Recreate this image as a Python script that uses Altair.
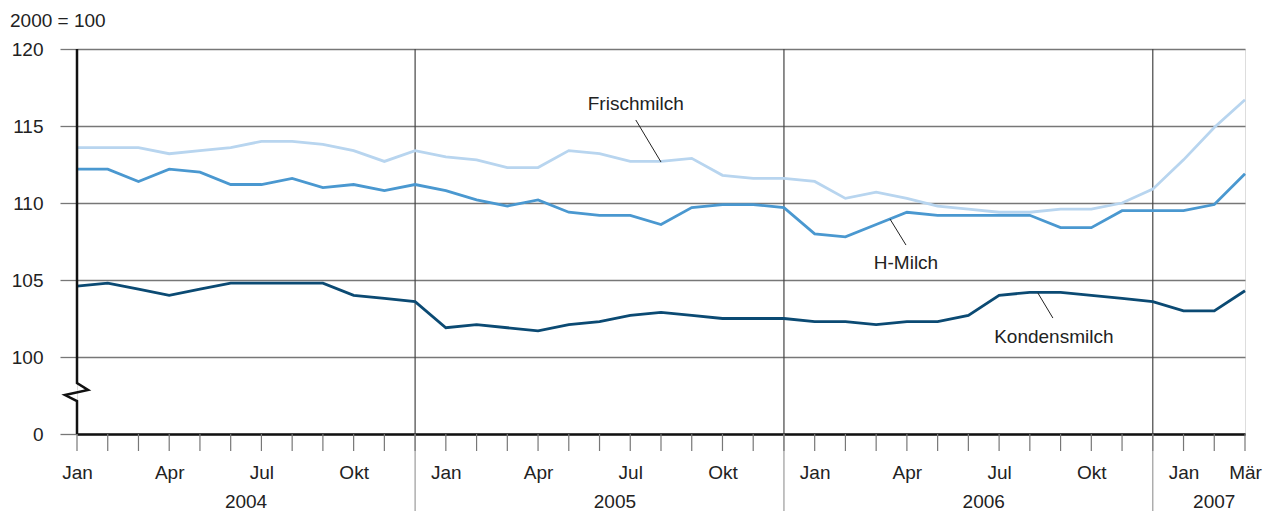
import altair as alt
import pandas as pd

months = ["Jan", "Feb", "Mär", "Apr", "Mai", "Jun", "Jul", "Aug", "Sep", "Okt", "Nov", "Dez"]
years = [2004, 2005, 2006, 2007]

frischmilch = [113.6, 113.6, 113.6, 113.2, 113.4, 113.6, 114.0, 114.0, 113.8, 113.4, 112.7, 113.4,
               113.0, 112.8, 112.3, 112.3, 113.4, 113.2, 112.7, 112.7, 112.9, 111.8, 111.6, 111.6,
               111.4, 110.3, 110.7, 110.3, 109.8, 109.6, 109.4, 109.4, 109.6, 109.6, 110.0, 110.9,
               112.8, 114.9, 116.7]
hmilch = [112.2, 112.2, 111.4, 112.2, 112.0, 111.2, 111.2, 111.6, 111.0, 111.2, 110.8, 111.2,
          110.8, 110.2, 109.8, 110.2, 109.4, 109.2, 109.2, 108.6, 109.7, 109.9, 109.9, 109.7,
          108.0, 107.8, 108.6, 109.4, 109.2, 109.2, 109.2, 109.2, 108.4, 108.4, 109.5, 109.5,
          109.5, 109.9, 111.9]
kondensmilch = [104.6, 104.8, 104.4, 104.0, 104.4, 104.8, 104.8, 104.8, 104.8, 104.0, 103.8, 103.6,
                101.9, 102.1, 101.9, 101.7, 102.1, 102.3, 102.7, 102.9, 102.7, 102.5, 102.5, 102.5,
                102.3, 102.3, 102.1, 102.3, 102.3, 102.7, 104.0, 104.2, 104.2, 104.0, 103.8, 103.6,
                103.0, 103.0, 104.3]

series_names = ["Frischmilch", "H-Milch", "Kondensmilch"]
series_colors = ["#b8d5ef", "#4a98d0", "#0b4a73"]

y_ticks = [95, 100, 105, 110, 115, 120]          # 95 stands for the broken-axis "0"
x_label_idx = [0, 3, 6, 9, 12, 15, 18, 21, 24, 27, 30, 33, 36, 38]
year_sep_idx = [11, 23, 35]
year_label_x = [5.5, 17.5, 29.5, 37.0]

# label positions (month index, value)
label_x = [18.18, 26.97, 31.78]
label_y = [116.45, 106.1, 101.3]
leader_x1 = [18.18, 26.45, 31.26]
leader_y1 = [115.39, 108.96, 104.16]
leader_x2 = [19.0, 26.97, 31.75]
leader_y2 = [112.66, 107.27, 102.53]

# axis break zigzag on the y axis (month index offset, value)
axis_x = [0, 0, -0.39, 0.36, 0, 0]
axis_y = [95, 97.14, 97.53, 97.86, 98.31, 120]

n = len(frischmilch)
rows = []
for name, vals in zip(series_names, [frischmilch, hmilch, kondensmilch]):
    for i, v in enumerate(vals):
        rows.append({"idx": i, "value": v, "series": name})
df = pd.DataFrame(rows)

month_labels = [months[i % 12] for i in range(n)]
label_expr = "[" + ",".join("'" + m + "'" for m in month_labels) + "][datum.value]"

W, H = 1168, 385
FONT = "Liberation Sans"

xscale = alt.Scale(domain=[0, n - 1], nice=False, zero=False)
yscale = alt.Scale(domain=[95, 120], nice=False, zero=False)

base_x = alt.X("idx:Q", scale=xscale,
               axis=alt.Axis(values=x_label_idx, grid=False, title=None,
                             labelExpr=label_expr,
                             ticks=False,
                             domainColor="#111111", domainWidth=2.5,
                             labelFont=FONT, labelFontSize=19, labelColor="#222222",
                             labelPadding=29, labelFlush=False, labelOverlap=False))
base_y = alt.Y("value:Q", scale=yscale,
               axis=alt.Axis(values=y_ticks, title=None, grid=True, gridColor="#777777",
                             gridWidth=1.3, domain=False, tickSize=17, tickColor="#777777",
                             tickWidth=1.3,
                             labelExpr="datum.value == 95 ? '0' : datum.value",
                             labelFont=FONT, labelFontSize=19, labelColor="#222222",
                             labelPadding=17))

lines = alt.Chart(df).mark_line(strokeWidth=2.8).encode(
    x=base_x, y=base_y,
    color=alt.Color("series:N", scale=alt.Scale(domain=series_names, range=series_colors), legend=None),
    order="idx:Q",
)

tick_df = pd.DataFrame({"idx": list(range(n))})
month_ticks = alt.Chart(tick_df).mark_rule(color="#777777", strokeWidth=1.2).encode(
    x=alt.X("idx:Q", scale=xscale), y=alt.value(H), y2=alt.value(H + 17))

sep_df = pd.DataFrame({"idx": year_sep_idx})
sep_in = alt.Chart(sep_df).mark_rule(color="#444444", strokeWidth=1.2).encode(
    x=alt.X("idx:Q", scale=xscale), y=alt.value(0), y2=alt.value(H))
sep_out = alt.Chart(sep_df).mark_rule(color="#9a9a9a", strokeWidth=1.2).encode(
    x=alt.X("idx:Q", scale=xscale), y=alt.value(H), y2=alt.value(H + 80))

year_df = pd.DataFrame({"idx": year_label_x, "year": [str(y) for y in years]})
year_text = alt.Chart(year_df).mark_text(font=FONT, fontSize=19, color="#222222", baseline="middle").encode(
    x=alt.X("idx:Q", scale=xscale), y=alt.value(H + 68), text="year:N")

axis_df = pd.DataFrame({"idx": axis_x, "value": axis_y, "o": list(range(len(axis_x)))})
y_axis_line = alt.Chart(axis_df).mark_line(color="#111111", strokeWidth=2.5, clip=False).encode(
    x=alt.X("idx:Q", scale=xscale), y=alt.Y("value:Q", scale=yscale), order="o:Q")

lab_df = pd.DataFrame({"idx": label_x, "value": label_y, "name": series_names})
labels = alt.Chart(lab_df).mark_text(font=FONT, fontSize=19, color="#222222", baseline="middle").encode(
    x=alt.X("idx:Q", scale=xscale), y=alt.Y("value:Q", scale=yscale), text="name:N")

lead_df = pd.DataFrame({"x1": leader_x1, "y1": leader_y1, "x2": leader_x2, "y2": leader_y2})
leaders = alt.Chart(lead_df).mark_rule(color="#222222", strokeWidth=1).encode(
    x=alt.X("x1:Q", scale=xscale), y=alt.Y("y1:Q", scale=yscale), x2="x2:Q", y2="y2:Q")

unit_text = alt.Chart(pd.DataFrame({"t": ["2000 = 100"]})).mark_text(
    font=FONT, fontSize=19, color="#222222", align="left", baseline="alphabetic").encode(
    x=alt.value(-67), y=alt.value(-22), text="t:N")

chart = alt.layer(sep_in, sep_out, month_ticks, lines, y_axis_line, leaders, labels, year_text, unit_text).properties(
    width=W, height=H,
    padding={"left": 69, "top": 41, "right": 21, "bottom": 77},
    autosize=alt.AutoSizeParams(type="none"),
).configure_view(stroke=None).configure(background="white")

chart.save("out.html", embed_options={"renderer": "svg", "actions": False})
